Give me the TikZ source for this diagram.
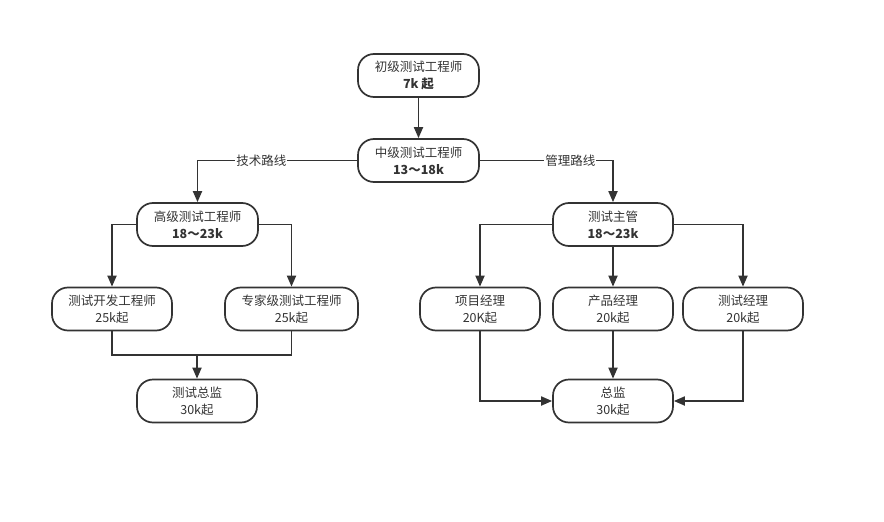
\documentclass[tikz,border=0pt]{standalone}
\usepackage{fontspec}
\setmainfont{Noto Sans CJK SC}
\usetikzlibrary{arrows.meta,positioning}
\definecolor{ink}{HTML}{333333}
\begin{document}
\begin{tikzpicture}[x=1pt,y=-1pt,
  box/.style={draw=ink,line width=1.7pt,rounded corners=16pt,minimum height=43pt,
    text=ink,font=\fontsize{12.5}{17}\selectfont,align=center,inner sep=0pt},
  conn/.style={draw=ink,line width=1.8pt,-{Triangle[length=11pt,width=9pt]}},
  plain/.style={draw=ink,line width=1.8pt},
  lbl/.style={fill=white,text=ink,font=\fontsize{12.5}{15}\selectfont,inner sep=1pt}]
\useasboundingbox (0,0) rectangle (884,522);
\node[box,minimum width=121pt] (a) at (418.5,75.5) {初级测试工程师\\\textbf{7k 起}};
\node[box,minimum width=121pt] (b) at (418.5,160.5) {中级测试工程师\\\textbf{13～18k}};
\node[box,minimum width=121pt] (c) at (197.5,224.5) {高级测试工程师\\\textbf{18～23k}};
\node[box,minimum width=120pt] (d) at (613,224.5) {测试主管\\\textbf{18～23k}};
\node[box,minimum width=120pt] (e) at (112,309) {测试开发工程师\\25k起};
\node[box,minimum width=133pt] (f) at (291.5,309) {专家级测试工程师\\25k起};
\node[box,minimum width=120pt] (g) at (197,401) {测试总监\\30k起};
\node[box,minimum width=120pt] (h) at (480,309) {项目经理\\20K起};
\node[box,minimum width=120pt] (i) at (613,309) {产品经理\\20k起};
\node[box,minimum width=120pt] (j) at (743,309) {测试经理\\20k起};
\node[box,minimum width=120pt] (k) at (613,401) {总监\\30k起};
\coordinate (m) at (197,355);
\draw[conn] (a) -- (b);
\draw[conn] (b.west) -| (c.north) node[lbl,pos=0.3] {技术路线};
\draw[conn] (b.east) -| (d.north) node[lbl,pos=0.34] {管理路线};
\draw[conn] (c.west) -| (e.north);
\draw[conn] (c.east) -| (f.north);
\draw[plain] (e.south) |- (m) -| (f.south);
\draw[conn] (m) -- (g.north);
\draw[conn] (d.west) -| (h.north);
\draw[conn] (d.south) -- (i.north);
\draw[conn] (d.east) -| (j.north);
\draw[conn] (h.south) |- (k.west);
\draw[conn] (i.south) -- (k.north);
\draw[conn] (j.south) |- (k.east);
\end{tikzpicture}
\end{document}
